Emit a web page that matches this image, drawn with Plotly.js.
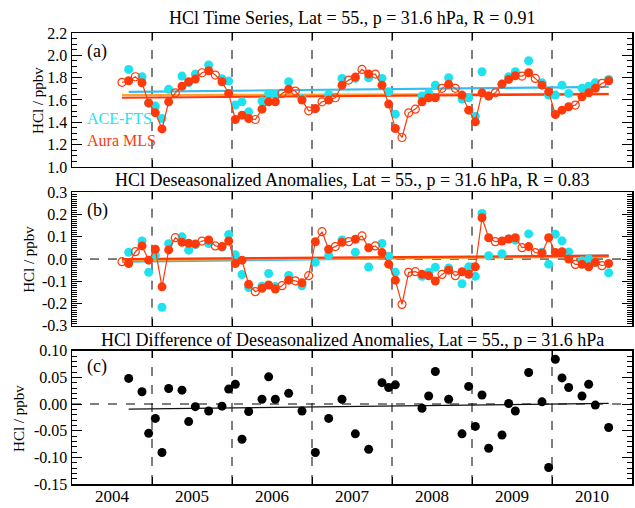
<!DOCTYPE html>
<html>
<head>
<meta charset="utf-8">
<script src="https://cdn.plot.ly/plotly-3.0.1.min.js"></script>
<style>html,body{margin:0;padding:0;background:#fff;}#chart{width:635px;height:508px;}</style>
</head>
<body>
<div id="chart"></div>
<script>
// ---- DATA (monthly, Aug 2004 .. Sep 2010) ----
var startYear = 2004, startMonth = 7; // 0-based month index (Aug)
// Panel (a): HCl time series, ppbv
var mlsSeries = [
  1.758, 1.772, 1.808, 1.754, 1.574,
  1.485, 1.341, 1.583, 1.664, 1.724, 1.763, 1.787, 1.844, 1.862, 1.823, 1.763, 1.659,
  1.425, 1.464, 1.434, 1.425, 1.518, 1.583, 1.583, 1.659, 1.695, 1.680, 1.599, 1.503,
  1.524, 1.583, 1.599, 1.620, 1.733, 1.778, 1.805, 1.874, 1.832, 1.832, 1.733, 1.563,
  1.344, 1.264, 1.485, 1.518, 1.583, 1.620, 1.620, 1.704, 1.740, 1.704, 1.644, 1.509,
  1.404, 1.664, 1.635, 1.664, 1.742, 1.784, 1.817, 1.814, 1.844, 1.793, 1.733, 1.673,
  1.470, 1.509, 1.539, 1.554, 1.628, 1.664, 1.704, 1.749, 1.772
];
var aceSeries = [
  null, 1.874, null, 1.808, 1.570,
  1.545, 1.434, 1.695, null, 1.814, 1.755, 1.832, null, 1.913, null, 1.790, 1.769,
  1.554, 1.583, 1.494, null, 1.590, 1.659, 1.650, null, 1.763, null, 1.614, null,
  1.520, null, 1.650, null, 1.793, null, 1.793, null, 1.799, null, 1.793, 1.673,
  1.473, null, null, null, 1.635, 1.664, 1.733, null, 1.799, null, 1.608, 1.620,
  1.455, 1.853, 1.635, null, 1.740, 1.808, 1.853, null, 1.951, null, 1.754, 1.644,
  1.644, 1.733, 1.659, null, 1.704, 1.724, 1.754, null, 1.784
];
// Panel (b): deseasonalized anomalies, ppbv
var mlsAnom = [
  -0.012, -0.020, 0.033, 0.059, -0.005,
  0.044, -0.125, 0.041, 0.096, 0.075, 0.071, 0.068, 0.081, 0.086, 0.059, 0.056, 0.081,
  -0.020, -0.005, -0.114, -0.147, -0.132, -0.117, -0.135, -0.120, -0.095, -0.098, -0.107, -0.075,
  0.078, 0.123, 0.044, 0.056, 0.075, 0.078, 0.089, 0.104, 0.051, 0.059, 0.029, -0.023,
  -0.095, -0.204, -0.060, -0.057, -0.069, -0.075, -0.099, -0.069, -0.050, -0.075, -0.057, -0.069,
  -0.035, 0.186, 0.096, 0.078, 0.081, 0.090, 0.096, 0.051, 0.056, 0.029, 0.026, 0.096,
  0.029, 0.033, 0.000, -0.024, -0.024, -0.035, -0.015, -0.030, -0.020
];
var aceAnom = [
  null, 0.030, null, 0.081, -0.060,
  0.016, -0.217, 0.069, null, 0.100, 0.040, 0.065, null, 0.070, null, 0.054, 0.110,
  0.019, -0.070, -0.128, null, -0.122, -0.065, -0.124, null, -0.074, null, -0.120, null,
  -0.015, null, 0.016, null, 0.086, null, 0.031, null, -0.036, null, 0.070, 0.012,
  -0.060, null, null, null, -0.078, -0.060, -0.037, null, -0.040, null, -0.111, -0.035,
  -0.078, 0.205, 0.015, null, 0.024, 0.090, 0.085, null, 0.113, null, 0.031, -0.023,
  0.112, 0.082, 0.032, null, -0.008, 0.001, -0.016, null, -0.062
];
// Panel (c): difference of deseasonalized anomalies (ACE - MLS), ppbv
var anomDiff = [
  null, 0.048, null, 0.023, -0.055,
  -0.027, -0.091, 0.029, null, 0.026, -0.033, -0.005, null, -0.013, null, -0.004, 0.028,
  0.037, -0.066, -0.014, null, 0.009, 0.051, 0.009, null, 0.020, null, -0.013, null,
  -0.091, null, -0.027, null, 0.009, null, -0.056, null, -0.085, null, 0.040, 0.031,
  0.036, null, null, null, -0.008, 0.015, 0.061, null, 0.009, null, -0.056, 0.033,
  -0.042, 0.017, -0.083, null, -0.058, 0.001, -0.013, null, 0.059, null, 0.004, -0.119,
  0.084, 0.049, 0.031, null, 0.015, 0.037, -0.002, null, -0.044
];
// Linear trend fits (start value, end value)
var aceTrendA = [1.673, 1.718];
var mlsSampledTrendA = [1.643, 1.655];
var mlsTrendA = [1.620, 1.652];
var aceTrendB = [-0.012, 0.016];
var mlsSampledTrendB = [-0.005, 0.010];
var mlsTrendB = [0.000, 0.015];
var diffTrendC = [-0.0095, 0.001];
// Axis labels
var yearBoundaries = [2005, 2006, 2007, 2008, 2009, 2010];
var yearLabelPos = [2004.5, 2005.5, 2006.5, 2007.5, 2008.5, 2009.5, 2010.5];
var yearLabels = ['2004', '2005', '2006', '2007', '2008', '2009', '2010'];
var yTicksA = [1.0, 1.2, 1.4, 1.6, 1.8, 2.0, 2.2];
var yTextA = ['1.0', '1.2', '1.4', '1.6', '1.8', '2.0', '2.2'];
var yTicksB = [-0.3, -0.2, -0.1, 0.0, 0.1, 0.2, 0.3];
var yTextB = ['-0.3', '-0.2', '-0.1', '0.0', '0.1', '0.2', '0.3'];
var yTicksC = [-0.15, -0.10, -0.05, 0.00, 0.05, 0.10];
var yTextC = ['-0.15', '-0.10', '-0.05', '0.00', '0.05', '0.10'];
var yTitle = 'HCl / ppbv';
var titles = [
  'HCl Time Series, Lat = 55., p = 31.6 hPa, R = 0.91',
  'HCl Deseasonalized Anomalies, Lat = 55., p = 31.6 hPa, R = 0.83',
  'HCl Difference of Deseasonalized Anomalies, Lat = 55., p = 31.6 hPa'
];

// ---- BUILD ----
var CYAN = '#1EE3EE', RED = '#FF3A0A', SKY = '#35BDF0', ORANGE = '#FFA030';
var FONT = 'Liberation Serif, Times New Roman, serif';
var xs = mlsSeries.map(function (_, i) { return startYear + (startMonth + i + 0.5) / 12; });
var xFirst = xs[0], xLast = xs[xs.length - 1];
var xFirstAce = xs[aceSeries.findIndex(function (v) { return v !== null; })];
function pick(arr, cond) { return arr.map(function (v, i) { return cond(i) ? v : null; }); }
var hasAce = function (i) { return aceSeries[i] !== null; };
var noAce = function (i) { return aceSeries[i] === null; };

var traces = [];
function panel(xa, ya, mls, ace, trends) {
  trends.forEach(function (t) {
    traces.push({x: [t.x0, xLast], y: t.v, xaxis: xa, yaxis: ya, mode: 'lines',
      line: {color: t.c, width: 2.2}, hoverinfo: 'skip'});
  });
  traces.push({x: xs, y: ace, xaxis: xa, yaxis: ya, mode: 'markers',
    marker: {color: CYAN, size: 9}});
  traces.push({x: xs, y: mls, xaxis: xa, yaxis: ya, mode: 'lines',
    line: {color: RED, width: 1.2}});
  traces.push({x: xs, y: pick(mls, noAce), xaxis: xa, yaxis: ya, mode: 'markers',
    marker: {symbol: 'circle-open', color: RED, size: 8, line: {width: 1.2, color: RED}}});
  traces.push({x: xs, y: pick(mls, hasAce), xaxis: xa, yaxis: ya, mode: 'markers',
    marker: {color: RED, size: 9}});
}
panel('x', 'y', mlsSeries, aceSeries, [
  {x0: xFirstAce, v: aceTrendA, c: SKY},
  {x0: xFirst, v: mlsSampledTrendA, c: ORANGE},
  {x0: xFirst, v: mlsTrendA, c: RED}
]);
panel('x2', 'y2', mlsAnom, aceAnom, [
  {x0: xFirstAce, v: aceTrendB, c: SKY},
  {x0: xFirst, v: mlsSampledTrendB, c: ORANGE},
  {x0: xFirst, v: mlsTrendB, c: RED}
]);
traces.push({x: [xFirstAce, xLast], y: diffTrendC, xaxis: 'x3', yaxis: 'y3', mode: 'lines',
  line: {color: '#111', width: 1.3}});
traces.push({x: xs, y: anomDiff, xaxis: 'x3', yaxis: 'y3', mode: 'markers',
  marker: {color: '#000', size: 9}});

function xAxis(anchor, labels) {
  var ax = {anchor: anchor, domain: [0, 1], range: [2004, 2011], showline: true, linecolor: '#000',
    linewidth: 1.5, mirror: 'ticks', showgrid: false, zeroline: false,
    tickfont: {family: FONT, size: 17, color: '#000'}};
  if (labels) {
    ax.tickmode = 'array'; ax.tickvals = yearLabelPos; ax.ticktext = yearLabels; ax.ticks = '';
    ax.ticklabelstandoff = -4;
    ax.minor = {tickmode: 'array', tickvals: yearBoundaries, ticks: 'inside', ticklen: 7,
      tickcolor: '#000', tickwidth: 1, showgrid: false};
  } else {
    ax.tickmode = 'array'; ax.tickvals = yearBoundaries; ax.ticks = 'inside'; ax.ticklen = 7;
    ax.tickcolor = '#000'; ax.showticklabels = false;
  }
  return ax;
}
function yAxis(anchor, dom, range, tv, tt, minorStep) {
  return {anchor: anchor, domain: dom, range: range, tickmode: 'array', tickvals: tv, ticktext: tt,
    ticks: 'inside', ticklen: 10, tickwidth: 1, tickcolor: '#000', showline: true, linecolor: '#000',
    linewidth: 1.5, mirror: 'ticks', showgrid: false, zeroline: false,
    minor: {dtick: minorStep, ticks: 'inside', ticklen: 5, tickcolor: '#000', tickwidth: 1, showgrid: false},
    tickfont: {family: FONT, size: 16, color: '#000'}};
}

var shapes = [];
['', '2', '3'].forEach(function (s) {
  yearBoundaries.forEach(function (b) {
    shapes.push({type: 'line', xref: 'x' + s, yref: 'y' + s + ' domain', x0: b, x1: b, y0: 0, y1: 1,
      line: {color: '#000', width: 1, dash: 'dash'}, layer: 'below'});
  });
});
['2', '3'].forEach(function (s) {
  shapes.push({type: 'line', xref: 'x' + s + ' domain', yref: 'y' + s, x0: 0, x1: 1, y0: 0, y1: 0,
    line: {color: '#000', width: 1, dash: 'dash'}, layer: 'below'});
});

var ann = [];
var titleY = [1.0333, 0.674, 0.319];
titles.forEach(function (t, k) {
  ann.push({text: t, xref: 'paper', yref: 'paper', x: 0.5, y: titleY[k], xanchor: 'center',
    yanchor: 'middle', showarrow: false, font: {family: FONT, size: 18, color: '#000'}});
});
// y-axis titles (rotated), placed like the reference
var yTitleX = [-0.062, -0.077, -0.095], yTitleY = [0.85, 0.499, 0.146];
yTitleX.forEach(function (xp, k) {
  ann.push({text: yTitle, xref: 'paper', yref: 'paper', x: xp, y: yTitleY[k], xanchor: 'center',
    yanchor: 'middle', textangle: -90, showarrow: false, font: {family: FONT, size: 15, color: '#000'}});
});
var panelLab = ['(a)', '(b)', '(c)'], panelLabY = [0.958, 0.6075, 0.26];
panelLab.forEach(function (t, k) {
  ann.push({text: t, xref: 'paper', yref: 'paper', x: 0.024, y: panelLabY[k], xanchor: 'left',
    yanchor: 'middle', showarrow: false, font: {family: FONT, size: 18, color: '#000'}});
});
ann.push({text: 'ACE-FTS', xref: 'paper', yref: 'paper', x: 0.024, y: 0.8115, xanchor: 'left',
  yanchor: 'middle', showarrow: false, font: {family: FONT, size: 16, color: CYAN}});
ann.push({text: 'Aura MLS', xref: 'paper', yref: 'paper', x: 0.024, y: 0.7627, xanchor: 'left',
  yanchor: 'middle', showarrow: false, font: {family: FONT, size: 16, color: RED}});

var layout = {
  width: 635, height: 508, margin: {l: 72, r: 3, t: 33, b: 24},
  paper_bgcolor: '#fff', plot_bgcolor: '#fff', showlegend: false,
  font: {family: FONT, color: '#000'},
  xaxis: xAxis('y', false), xaxis2: xAxis('y2', false), xaxis3: xAxis('y3', true),
  yaxis: yAxis('x', [0.703, 1.0], [1.0, 2.2], yTicksA, yTextA, 0.05),
  yaxis2: yAxis('x2', [0.351, 0.6466], [-0.3, 0.3], yTicksB, yTextB, 0.01),
  yaxis3: yAxis('x3', [0, 0.2956], [-0.15, 0.10], yTicksC, yTextC, 0.01),
  shapes: shapes, annotations: ann
};
Plotly.newPlot('chart', traces, layout, {staticPlot: true, displayModeBar: false});
</script>
</body>
</html>
